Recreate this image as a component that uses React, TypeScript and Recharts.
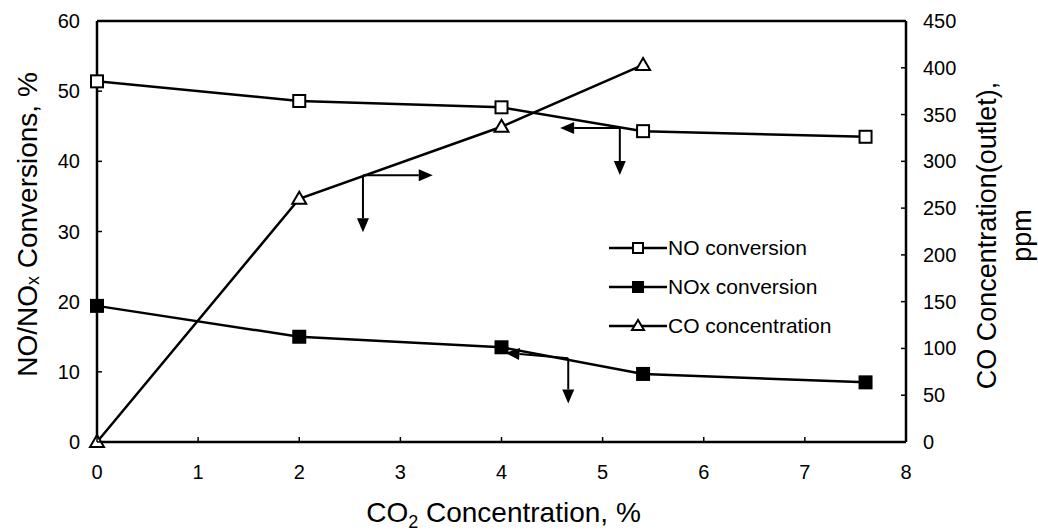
import React from 'react';
import { LineChart, Line, XAxis, YAxis, ReferenceLine, Legend } from 'recharts';

// CO2 concentration in the feed, %
const co2NoData = [0, 2, 4, 5.4, 7.6];
const noConversion = [51.4, 48.6, 47.7, 44.3, 43.5];
const noxConversion = [19.4, 15.0, 13.5, 9.7, 8.5];
const co2CoData = [0, 2, 4, 5.4];
const coConcentration = [0, 260, 337, 403];

const xTicks = [0, 1, 2, 3, 4, 5, 6, 7, 8];
const leftTicks = [0, 10, 20, 30, 40, 50, 60];
const rightTicks = [0, 50, 100, 150, 200, 250, 300, 350, 400, 450];

// Annotation arrows pointing each series to its axis (x, left-axis value)
const arrowSegments = [
  { from: [2.63, 38.0], to: [3.32, 38.0] },
  { from: [2.63, 38.0], to: [2.63, 29.9] },
  { from: [5.17, 44.75], to: [4.58, 44.75] },
  { from: [5.17, 44.75], to: [5.17, 38.05] },
  { from: [4.66, 11.93], to: [4.04, 12.7] },
  { from: [4.66, 11.93], to: [4.66, 5.5] },
];

const noRows = co2NoData.map((x, i) => ({ x, no: noConversion[i], nox: noxConversion[i] }));
const coRows = co2CoData.map((x, i) => ({ x, co: coConcentration[i] }));

const FONT = '"Liberation Sans", Arial, Helvetica, sans-serif';
const INK = '#000';
const TICK_GAP = 17;

const OpenSquare = (p: any) => (
  <rect key={p.key} x={p.cx - 6} y={p.cy - 6} width={12} height={12} fill="#fff" stroke={INK} strokeWidth={2} />
);
const FilledSquare = (p: any) => (
  <rect key={p.key} x={p.cx - 6} y={p.cy - 6} width={12} height={12} fill={INK} stroke={INK} strokeWidth={2} />
);
const OpenTriangle = (p: any) => (
  <polygon
    key={p.key}
    points={`${p.cx},${p.cy - 7} ${p.cx - 7},${p.cy + 5} ${p.cx + 7},${p.cy + 5}`}
    fill="#fff"
    stroke={INK}
    strokeWidth={2}
  />
);

const LeftTick = (p: any) => {
  const ax = p.x + TICK_GAP;
  return (
    <g>
      <line x1={ax} y1={p.y} x2={ax + 5} y2={p.y} stroke={INK} strokeWidth={1.5} />
      <text x={p.x} y={p.y} textAnchor="end" dominantBaseline="central" fontSize={20} fontFamily={FONT} fill={INK}>
        {p.payload.value}
      </text>
    </g>
  );
};

const RightTick = (p: any) => {
  const ax = p.x - TICK_GAP;
  return (
    <g>
      <line x1={ax} y1={p.y} x2={ax - 5} y2={p.y} stroke={INK} strokeWidth={1.5} />
      <text x={p.x} y={p.y} textAnchor="start" dominantBaseline="central" fontSize={20} fontFamily={FONT} fill={INK}>
        {p.payload.value}
      </text>
    </g>
  );
};

const BottomTick = (p: any) => {
  const ay = p.y - 23;
  return (
    <g>
      <line x1={p.x} y1={ay} x2={p.x} y2={ay - 5} stroke={INK} strokeWidth={1.5} />
      <text x={p.x} y={p.y} dy="0.71em" textAnchor="middle" fontSize={20} fontFamily={FONT} fill={INK}>
        {p.payload.value}
      </text>
    </g>
  );
};

const Arrow = (p: any) => {
  const { x1, y1, x2, y2 } = p;
  const dx = x2 - x1;
  const dy = y2 - y1;
  const len = Math.sqrt(dx * dx + dy * dy) || 1;
  const ux = dx / len;
  const uy = dy / len;
  const head = 14;
  const half = 6;
  const bx = x2 - ux * head;
  const by = y2 - uy * head;
  return (
    <g>
      <line x1={x1} y1={y1} x2={bx} y2={by} stroke={INK} strokeWidth={2} />
      <polygon
        points={`${x2},${y2} ${bx - uy * half},${by + ux * half} ${bx + uy * half},${by - ux * half}`}
        fill={INK}
      />
    </g>
  );
};

const legendItems = [
  { label: 'NO conversion', kind: 'open' },
  { label: 'NOx conversion', kind: 'filled' },
  { label: 'CO concentration', kind: 'triangle' },
];

const LegendBox = () => (
  <div style={{ fontFamily: FONT, fontSize: 21, color: INK }}>
    {legendItems.map((item) => (
      <div key={item.label} style={{ display: 'flex', alignItems: 'center', height: 39 }}>
        <svg width={58} height={20} style={{ display: 'block' }}>
          <line x1={0} y1={10} x2={58} y2={10} stroke={INK} strokeWidth={2.5} />
          {item.kind === 'open' && <rect x={24} y={5} width={10} height={10} fill="#fff" stroke={INK} strokeWidth={2} />}
          {item.kind === 'filled' && <rect x={24} y={5} width={10} height={10} fill={INK} stroke={INK} strokeWidth={2} />}
          {item.kind === 'triangle' && (
            <polygon points="29,4 23,14 35,14" fill="#fff" stroke={INK} strokeWidth={2} />
          )}
        </svg>
        <span style={{ marginLeft: 1, whiteSpace: 'nowrap' }}>{item.label}</span>
      </div>
    ))}
  </div>
);

const LeftTitle = (p: any) => {
  const vb = p.viewBox;
  const cx = 27;
  const cy = vb.y + vb.height / 2 - 7;
  return (
    <text
      transform={`translate(${cx},${cy}) rotate(-90)`}
      textAnchor="middle"
      dominantBaseline="central"
      fontSize={28}
      fontFamily={FONT}
      fill={INK}
    >
      NO/NO
      <tspan fontSize={18} dy={6}>x</tspan>
      <tspan dy={-6}> Conversions, %</tspan>
    </text>
  );
};

const RightTitle = (p: any) => {
  const vb = p.viewBox;
  const cy = vb.y + vb.height / 2 + 4;
  const x1 = vb.x + 81;
  const x2 = vb.x + 116;
  return (
    <g fontSize={27} fontFamily={FONT} fill={INK}>
      <text transform={`translate(${x1},${cy}) rotate(-90)`} textAnchor="middle" dominantBaseline="central">
        CO Concentration(outlet),
      </text>
      <text transform={`translate(${x2},${cy}) rotate(-90)`} textAnchor="middle" dominantBaseline="central">
        ppm
      </text>
    </g>
  );
};

const BottomTitle = (p: any) => {
  const vb = p.viewBox;
  const cx = vb.x + vb.width / 2 + 2;
  return (
    <text x={cx} y={522} textAnchor="middle" fontSize={28} fontFamily={FONT} fill={INK}>
      CO
      <tspan fontSize={18} dy={6}>2</tspan>
      <tspan dy={-6}> Concentration, %</tspan>
    </text>
  );
};

export default function App() {
  return (
    <div style={{ position: 'absolute', left: 0, top: 0, width: 1038, height: 531, background: '#fff' }}>
      <LineChart width={1038} height={531} margin={{ top: 21, right: 52, bottom: 49, left: 37 }}>
        <XAxis
          type="number"
          dataKey="x"
          domain={[0, 8]}
          ticks={xTicks}
          axisLine={{ stroke: INK, strokeWidth: 2.5 }}
          tickLine={false}
          tickSize={0}
          tickMargin={23}
          height={40}
          tick={<BottomTick />}
          label={{ content: <BottomTitle /> }}
        />
        <YAxis
          yAxisId="left"
          orientation="left"
          domain={[0, 60]}
          ticks={leftTicks}
          width={60}
          axisLine={{ stroke: INK, strokeWidth: 2.5 }}
          tickLine={false}
          tickSize={0}
          tickMargin={TICK_GAP}
          tick={<LeftTick />}
          label={{ content: <LeftTitle /> }}
        />
        <YAxis
          yAxisId="right"
          orientation="right"
          domain={[0, 450]}
          ticks={rightTicks}
          width={80}
          axisLine={{ stroke: INK, strokeWidth: 2.5 }}
          tickLine={false}
          tickSize={0}
          tickMargin={TICK_GAP}
          tick={<RightTick />}
          label={{ content: <RightTitle /> }}
        />
        <ReferenceLine yAxisId="left" y={60} stroke={INK} strokeWidth={2.5} />
        {arrowSegments.map((s, i) => (
          <ReferenceLine
            key={`arrow-${i}`}
            yAxisId="left"
            segment={[
              { x: s.from[0], y: s.from[1] },
              { x: s.to[0], y: s.to[1] },
            ]}
            stroke={INK}
            shape={Arrow}
          />
        ))}
        <Line
          yAxisId="left"
          data={noRows}
          dataKey="nox"
          name="NOx conversion"
          stroke={INK}
          strokeWidth={2.5}
          dot={FilledSquare}
          isAnimationActive={false}
        />
        <Line
          yAxisId="left"
          data={noRows}
          dataKey="no"
          name="NO conversion"
          stroke={INK}
          strokeWidth={2.5}
          dot={OpenSquare}
          isAnimationActive={false}
        />
        <Line
          yAxisId="right"
          data={coRows}
          dataKey="co"
          name="CO concentration"
          stroke={INK}
          strokeWidth={2.5}
          dot={OpenTriangle}
          isAnimationActive={false}
        />
        <Legend
          layout="vertical"
          align="center"
          verticalAlign="middle"
          content={<LegendBox />}
          wrapperStyle={{ left: 609, top: 228, width: 260, height: 117 }}
        />
      </LineChart>
    </div>
  );
}
